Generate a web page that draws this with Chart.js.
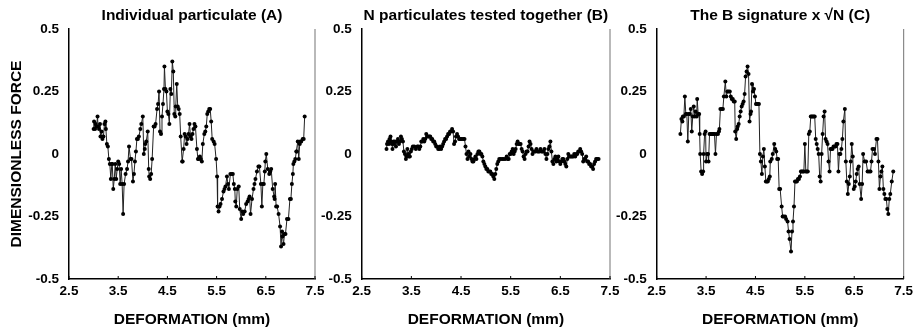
<!DOCTYPE html>
<html>
<head>
<meta charset="utf-8">
<script src="https://cdn.jsdelivr.net/npm/chart.js@4.4.1/dist/chart.umd.min.js"></script>
<style>
  html, body { margin: 0; padding: 0; background: #fff; }
  #wrap { position: relative; width: 917px; height: 333px; overflow: hidden; background: #fff; }
  #wrap canvas { position: absolute; top: 0; }
</style>
</head>
<body>
<div id="wrap">
  <canvas id="panelA" width="335" height="333" style="left:0px"></canvas>
  <canvas id="panelB" width="322" height="333" style="left:318px"></canvas>
  <canvas id="panelC" width="305" height="333" style="left:612px"></canvas>
</div>
<script>
// Axis ticks shared by the three panels
const deformTicks = [2.5, 3.5, 4.5, 5.5, 6.5, 7.5];
const deformTickLabels = ['2.5', '3.5', '4.5', '5.5', '6.5', '7.5'];
const forceTicks = [-0.5, -0.25, 0, 0.25, 0.5];
const forceTickLabels = ['-0.5', '-0.25', '0', '0.25', '0.5'];

const panelTitles = ['Individual particulate (A)', 'N particulates tested together (B)', 'The B signature x \u221AN (C)'];
const xAxisTitle = 'DEFORMATION (mm)';
const yAxisTitle = 'DIMENSIONLESS FORCE';

// (A) single particulate
const deformA = [3.00,3.01,3.03,3.04,3.06,3.08,3.09,3.11,3.13,3.14,3.16,3.18,3.20,3.22,3.24,3.25,3.27,3.29,3.31,3.33,
  3.35,3.37,3.38,3.40,3.42,3.44,3.46,3.48,3.50,3.52,3.54,3.56,3.58,3.60,3.62,3.65,3.68,3.70,3.72,3.75,
  3.77,3.80,3.82,3.84,3.86,3.88,3.90,3.92,3.95,3.97,4.00,4.02,4.04,4.05,4.07,4.10,4.12,4.13,4.15,4.17,
  4.19,4.22,4.24,4.26,4.29,4.31,4.33,4.35,4.37,4.39,4.41,4.43,4.44,4.46,4.48,4.50,4.52,4.54,4.56,4.58,
  4.60,4.62,4.64,4.66,4.67,4.69,4.71,4.73,4.75,4.77,4.80,4.81,4.83,4.85,4.87,4.89,4.91,4.93,4.95,4.97,
  4.99,5.01,5.03,5.05,5.07,5.10,5.12,5.14,5.16,5.18,5.20,5.22,5.25,5.27,5.29,5.31,5.33,5.35,5.37,5.39,
  5.41,5.44,5.46,5.49,5.51,5.52,5.54,5.56,5.58,5.61,5.64,5.66,5.68,5.71,5.73,5.75,5.78,5.81,5.83,5.85,
  5.87,5.88,5.90,5.92,5.95,5.97,6.00,6.02,6.04,6.07,6.10,6.13,6.15,6.17,6.19,6.22,6.25,6.27,6.29,6.32,
  6.35,6.37,6.40,6.42,6.44,6.46,6.48,6.49,6.51,6.54,6.57,6.59,6.61,6.64,6.67,6.68,6.69,6.71,6.73,6.76,
  6.79,6.81,6.83,6.84,6.86,6.88,6.90,6.93,6.96,6.99,7.01,7.03,7.05,7.06,7.08,7.10,7.12,7.13,7.15,7.17,
  7.19,7.20,7.22,7.25,7.27,7.29];
const forceA = [0.10,0.13,0.10,0.12,0.11,0.15,0.11,0.10,0.12,0.07,0.09,0.06,0.07,0.12,0.13,0.10,0.04,0.03,-0.02,-0.04,
  -0.10,-0.04,-0.04,-0.14,-0.10,-0.04,-0.10,-0.06,-0.03,-0.04,-0.12,-0.06,-0.12,-0.24,-0.12,-0.08,-0.06,-0.03,0.03,-0.02,
  -0.02,-0.11,-0.08,-0.03,0.01,0.06,0.06,0.07,0.10,0.12,0.15,0.00,0.02,0.04,0.05,0.09,-0.06,-0.09,-0.10,-0.08,
  -0.02,0.11,0.11,0.12,0.18,0.20,0.25,0.09,0.08,0.15,0.20,0.26,0.35,0.26,0.25,0.17,0.16,0.12,0.26,0.24,
  0.37,0.33,0.16,0.15,0.19,0.28,0.19,0.18,0.16,0.07,-0.03,-0.03,0.02,0.08,0.07,0.04,0.06,0.08,0.12,0.07,
  0.06,0.08,0.10,0.12,0.11,0.02,-0.02,-0.02,-0.01,-0.02,-0.03,0.04,0.08,0.09,0.11,0.16,0.17,0.18,0.18,0.13,
  0.06,0.05,0.04,-0.02,-0.09,-0.21,-0.23,-0.21,-0.20,-0.18,-0.15,-0.14,-0.13,-0.09,-0.12,-0.14,-0.08,-0.08,-0.08,-0.12,
  -0.14,-0.19,-0.21,-0.14,-0.13,-0.22,-0.26,-0.23,-0.24,-0.23,-0.20,-0.19,-0.18,-0.17,-0.24,-0.18,-0.14,-0.12,-0.10,-0.07,
  -0.05,-0.05,-0.12,-0.21,-0.12,-0.12,-0.07,-0.03,0.00,-0.06,-0.08,-0.07,-0.06,-0.14,-0.17,-0.18,-0.12,-0.21,-0.21,-0.24,
  -0.29,-0.37,-0.31,-0.33,-0.36,-0.32,-0.32,-0.26,-0.26,-0.18,-0.18,-0.12,-0.08,-0.04,-0.03,-0.02,0.01,0.01,0.05,-0.02,
  0.04,0.05,0.05,0.06,0.06,0.15];

// (B) N particulates tested together
const deformB = [3.00,3.01,3.03,3.05,3.06,3.08,3.09,3.11,3.12,3.14,3.15,3.17,3.19,3.21,3.23,3.25,3.27,3.29,3.31,3.33,
  3.35,3.37,3.39,3.40,3.42,3.44,3.45,3.47,3.49,3.51,3.53,3.56,3.59,3.62,3.64,3.66,3.68,3.70,3.72,3.74,
  3.76,3.78,3.80,3.82,3.84,3.86,3.88,3.90,3.92,3.94,3.96,3.98,4.00,4.02,4.04,4.06,4.08,4.10,4.12,4.14,
  4.16,4.18,4.20,4.22,4.24,4.26,4.28,4.30,4.32,4.34,4.36,4.38,4.40,4.42,4.44,4.46,4.48,4.50,4.52,4.55,
  4.57,4.59,4.61,4.63,4.65,4.67,4.69,4.71,4.73,4.75,4.77,4.79,4.81,4.83,4.85,4.87,4.89,4.91,4.93,4.95,
  4.97,4.99,5.01,5.03,5.05,5.07,5.09,5.11,5.13,5.15,5.17,5.19,5.21,5.23,5.25,5.27,5.30,5.33,5.36,5.39,
  5.42,5.44,5.46,5.48,5.50,5.52,5.54,5.56,5.58,5.60,5.62,5.64,5.66,5.68,5.70,5.72,5.74,5.76,5.78,5.80,
  5.82,5.84,5.86,5.88,5.90,5.92,5.94,5.96,5.98,6.00,6.02,6.04,6.06,6.08,6.10,6.12,6.14,6.16,6.18,6.20,
  6.22,6.24,6.26,6.28,6.30,6.32,6.34,6.36,6.38,6.40,6.42,6.44,6.46,6.48,6.50,6.52,6.54,6.56,6.58,6.60,
  6.62,6.64,6.66,6.68,6.70,6.72,6.74,6.76,6.78,6.80,6.82,6.84,6.86,6.88,6.90,6.92,6.94,6.96,6.98,7.00,
  7.02,7.04,7.06,7.08,7.10,7.12,7.14,7.16,7.18,7.20,7.22,7.24,7.27];
const forceB = [0.02,0.04,0.05,0.04,0.06,0.07,0.05,0.04,0.02,0.05,0.04,0.05,0.03,0.05,0.06,0.04,0.05,0.07,0.06,0.05,
  0.01,0.00,-0.02,-0.01,0.02,0.00,-0.01,-0.01,0.01,0.02,0.03,0.03,0.02,0.03,0.03,0.02,0.03,0.05,0.05,0.06,
  0.05,0.06,0.08,0.07,0.07,0.07,0.07,0.06,0.06,0.05,0.05,0.04,0.03,0.03,0.02,0.02,0.03,0.02,0.03,0.04,
  0.05,0.06,0.06,0.07,0.08,0.08,0.09,0.09,0.10,0.09,0.04,0.05,0.07,0.08,0.07,0.06,0.06,0.06,0.06,0.06,
  0.06,0.03,0.00,-0.02,0.01,-0.01,0.00,-0.02,-0.03,-0.03,-0.02,-0.01,-0.02,0.00,0.01,0.01,0.00,0.00,-0.01,-0.03,
  -0.04,-0.05,-0.06,-0.06,-0.07,-0.07,-0.07,-0.08,-0.08,-0.09,-0.10,-0.08,-0.06,-0.04,-0.03,-0.02,-0.02,-0.02,-0.02,-0.02,
  -0.01,-0.02,-0.02,0.00,0.00,0.01,0.02,0.00,0.01,0.02,0.04,0.05,0.04,0.04,0.04,0.02,0.01,-0.01,-0.02,0.00,
  0.01,0.01,0.03,0.05,0.04,0.02,0.00,0.01,0.01,0.01,0.02,0.01,0.01,0.01,0.02,0.01,0.01,0.01,0.02,0.00,
  -0.02,0.00,0.02,0.03,0.05,0.01,-0.03,-0.04,-0.02,-0.01,-0.03,-0.02,-0.01,-0.03,-0.04,-0.03,-0.02,-0.02,-0.03,-0.04,
  -0.05,-0.02,0.00,-0.01,-0.01,-0.01,-0.01,-0.01,0.00,-0.01,0.00,0.00,0.01,0.01,0.02,0.01,0.00,-0.03,-0.02,-0.02,
  -0.01,-0.03,-0.03,-0.04,-0.04,-0.05,-0.05,-0.06,-0.04,-0.03,-0.02,-0.02,-0.02];

// (C) the B signature scaled by sqrt(N)
const deformC = [2.98,3.00,3.02,3.03,3.05,3.07,3.09,3.11,3.13,3.15,3.17,3.19,3.21,3.23,3.25,3.27,3.29,3.31,3.32,3.34,
  3.36,3.37,3.38,3.40,3.42,3.44,3.45,3.47,3.49,3.50,3.52,3.54,3.55,3.57,3.59,3.61,3.63,3.65,3.67,3.69,
  3.71,3.74,3.76,3.77,3.79,3.82,3.84,3.86,3.89,3.91,3.93,3.95,3.98,4.00,4.02,4.04,4.06,4.08,4.09,4.11,
  4.13,4.14,4.16,4.18,4.20,4.22,4.24,4.26,4.28,4.30,4.32,4.34,4.36,4.38,4.40,4.41,4.43,4.45,4.47,4.49,
  4.51,4.53,4.55,4.57,4.59,4.61,4.63,4.65,4.67,4.69,4.71,4.73,4.75,4.77,4.79,4.80,4.83,4.85,4.88,4.90,
  4.92,4.94,4.96,4.98,5.00,5.03,5.05,5.07,5.10,5.12,5.15,5.17,5.19,5.22,5.24,5.26,5.28,5.30,5.32,5.34,
  5.36,5.38,5.40,5.42,5.44,5.46,5.48,5.50,5.52,5.54,5.56,5.58,5.60,5.62,5.64,5.66,5.68,5.70,5.72,5.74,
  5.76,5.78,5.80,5.82,5.84,5.86,5.88,5.90,5.92,5.94,5.96,5.98,6.00,6.02,6.04,6.06,6.08,6.10,6.12,6.14,
  6.16,6.18,6.20,6.22,6.24,6.26,6.28,6.31,6.33,6.35,6.37,6.39,6.41,6.43,6.45,6.47,6.49,6.51,6.53,6.55,
  6.57,6.59,6.61,6.64,6.66,6.68,6.71,6.74,6.77,6.80,6.83,6.85,6.87,6.90,6.92,6.95,6.97,6.99,7.01,7.03,
  7.05,7.07,7.09,7.11,7.13,7.15,7.17,7.19,7.21,7.23,7.26,7.29];
const forceC = [0.08,0.14,0.13,0.15,0.15,0.23,0.16,0.16,0.05,0.16,0.16,0.18,0.09,0.15,0.19,0.15,0.17,0.15,0.22,0.16,
  0.16,0.08,0.00,-0.07,-0.08,-0.07,0.00,0.08,0.09,-0.03,0.00,0.00,-0.03,0.08,0.08,0.08,0.08,0.08,0.08,0.00,
  0.08,0.08,0.09,0.10,0.18,0.18,0.18,0.23,0.29,0.23,0.25,0.25,0.25,0.23,0.22,0.22,0.21,0.21,0.09,0.06,
  0.10,0.11,0.12,0.15,0.17,0.19,0.20,0.21,0.24,0.31,0.33,0.35,0.32,0.13,0.16,0.17,0.28,0.25,0.26,0.23,
  0.20,0.20,0.20,0.20,0.00,-0.03,-0.08,-0.01,0.02,-0.05,-0.11,-0.11,-0.11,-0.10,-0.09,-0.03,-0.02,0.00,0.04,0.02,
  0.01,-0.02,-0.02,-0.14,-0.14,-0.21,-0.25,-0.25,-0.25,-0.26,-0.27,-0.31,-0.34,-0.39,-0.31,-0.27,-0.21,-0.11,-0.11,-0.11,
  -0.10,-0.10,-0.09,-0.07,-0.07,-0.07,-0.07,0.04,-0.07,-0.07,-0.07,0.08,0.09,0.15,0.15,0.15,0.15,0.15,0.06,0.04,
  0.02,0.00,-0.09,-0.11,0.00,0.08,0.15,0.17,0.06,0.05,0.04,-0.03,-0.07,0.02,0.02,0.02,0.03,0.03,0.03,0.04,
  0.04,-0.07,0.00,0.00,0.02,0.06,0.13,0.18,-0.03,-0.11,-0.16,-0.12,-0.09,-0.03,0.04,-0.01,-0.14,-0.13,-0.11,-0.08,
  -0.06,-0.05,-0.12,-0.18,-0.12,0.00,-0.03,-0.03,-0.07,-0.07,-0.07,-0.03,0.02,0.02,0.00,0.06,0.06,-0.03,-0.14,-0.09,
  -0.07,-0.05,-0.14,-0.16,-0.18,-0.18,-0.22,-0.24,-0.18,-0.16,-0.11,-0.07];

const FONT = '"Liberation Sans", Arial, Helvetica, sans-serif';

// Frame and inward tick marks: black left/bottom axes, grey right edge
const framePlugin = {
  id: 'frame',
  afterDatasetsDraw(chart) {
    const { ctx, chartArea: a, scales } = chart;
    ctx.save();
    ctx.strokeStyle = '#8a8a8a';
    ctx.lineWidth = 1.2;
    ctx.beginPath();
    ctx.moveTo(a.right, a.top);
    ctx.lineTo(a.right, a.bottom);
    ctx.stroke();
    ctx.strokeStyle = '#000';
    ctx.lineWidth = 1;
    ctx.beginPath();
    deformTicks.forEach(v => {
      const px = scales.x.getPixelForValue(v);
      ctx.moveTo(px, a.bottom);
      ctx.lineTo(px, a.bottom - 3);
    });
    ctx.stroke();
    ctx.restore();
  }
};

function makePanel(id, title, xs, ys, yAxisWidth, rightPad, showYTitle) {
  const points = xs.map((x, i) => ({ x: x, y: ys[i] }));
  return new Chart(document.getElementById(id), {
    type: 'line',
    data: {
      datasets: [{
        data: points,
        borderColor: '#222',
        borderWidth: 1,
        pointRadius: 2,
        pointBackgroundColor: '#000',
        pointBorderColor: '#000',
        pointBorderWidth: 0,
        tension: 0,
        fill: false
      }]
    },
    options: {
      responsive: false,
      animation: false,
      events: [],
      layout: { autoPadding: false, padding: { left: 0, right: rightPad, top: 0, bottom: 0 } },
      plugins: {
        legend: { display: false },
        tooltip: { enabled: false },
        title: {
          display: true,
          text: title,
          color: '#000',
          fullSize: false,
          font: { family: FONT, size: 15.5, weight: 'bold', lineHeight: 1.2 },
          padding: { top: 6, bottom: 4.4 }
        }
      },
      scales: {
        x: {
          type: 'linear',
          min: 2.5, max: 7.5,
          afterBuildTicks: s => { s.ticks = deformTicks.map(v => ({ value: v })); },
          afterFit: s => { s.height = 54; },
          grid: { display: false, drawTicks: false },
          border: { display: true, color: '#000', width: 1.5 },
          ticks: {
            padding: 4,
            color: '#000',
            maxRotation: 0,
            font: { family: FONT, size: 13.5, weight: 'bold' },
            callback: v => deformTickLabels[deformTicks.indexOf(v)]
          },
          title: {
            display: true,
            text: xAxisTitle,
            color: '#000',
            font: { family: FONT, size: 15.5, weight: 'bold', lineHeight: 1.2 },
            padding: { top: 0, bottom: 3.7 }
          }
        },
        y: {
          type: 'linear',
          min: -0.5, max: 0.5,
          afterBuildTicks: s => { s.ticks = forceTicks.map(v => ({ value: v })); },
          afterFit: s => { s.width = yAxisWidth; },
          grid: { display: false, drawTicks: false },
          border: { display: true, color: '#000', width: 1.5 },
          ticks: {
            padding: 10,
            color: '#000',
            font: { family: FONT, size: 13.5, weight: 'bold' },
            callback: v => forceTickLabels[forceTicks.indexOf(v)]
          },
          title: {
            display: showYTitle,
            text: yAxisTitle,
            color: '#000',
            font: { family: FONT, size: 15.5, weight: 'bold', lineHeight: 1.2 },
            padding: { top: 7.7, bottom: 0 }
          }
        }
      }
    },
    plugins: [framePlugin]
  });
}

makePanel('panelA', panelTitles[0], deformA, forceA, 69, 20, true);
makePanel('panelB', panelTitles[1], deformB, forceB, 43.7, 30, false);
makePanel('panelC', panelTitles[2], deformC, forceC, 44.7, 12.3, false);
</script>
</body>
</html>
